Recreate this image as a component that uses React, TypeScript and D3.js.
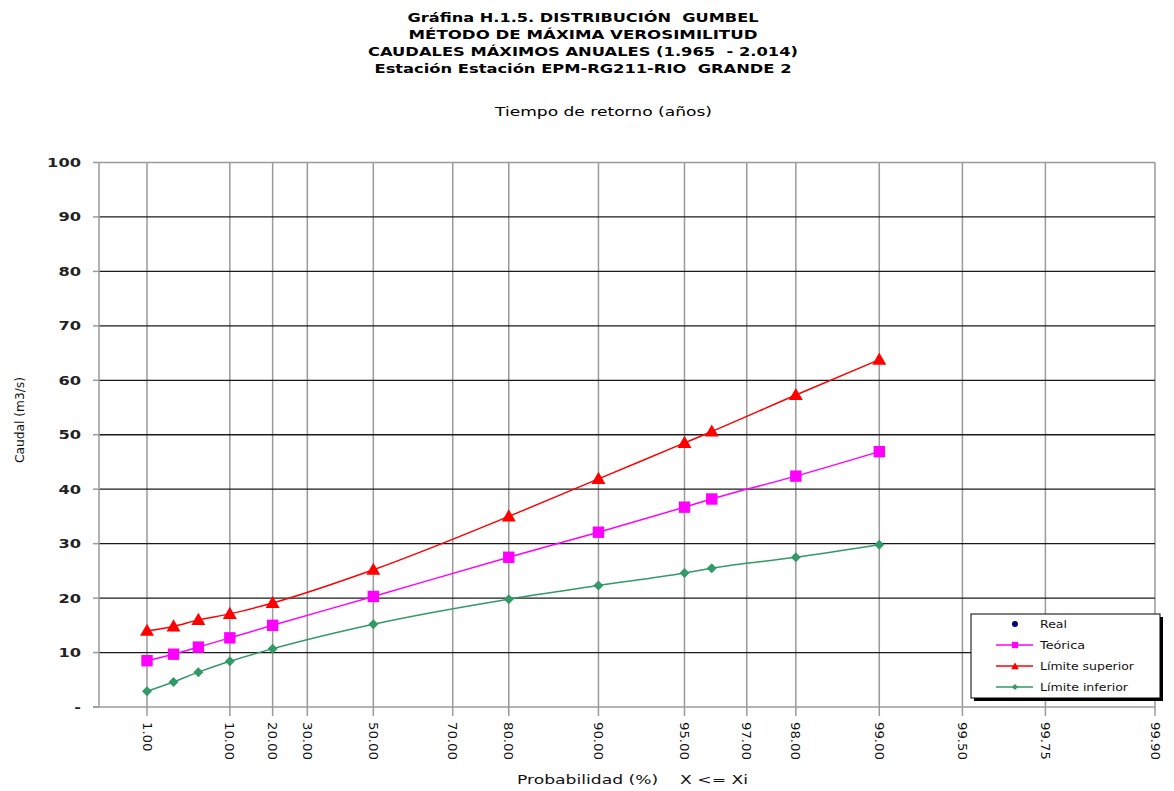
import React from "react";
import * as d3 from "d3";

// Non-exceedance probabilities (%) of the fitted points
const probabilities = [1, 2.5, 5, 10, 20, 50, 80, 90, 95, 96, 98, 99];
// Fitted Gumbel discharge (m3/s)
const teorica = [8.5, 9.7, 11.0, 12.7, 15.0, 20.3, 27.5, 32.1, 36.7, 38.2, 42.4, 46.9];
// Upper confidence limit
const limiteSuperior = [14.0, 14.8, 16.0, 17.1, 19.1, 25.2, 35.0, 41.9, 48.5, 50.6, 57.3, 63.8];
// Lower confidence limit
const limiteInferior = [2.9, 4.6, 6.4, 8.4, 10.7, 15.2, 19.8, 22.3, 24.6, 25.5, 27.5, 29.8];
// Observed values (none plotted)
const real: number[] = [];

const xTicks = [1, 10, 20, 30, 50, 70, 80, 90, 95, 97, 98, 99, 99.5, 99.75, 99.9];
const yTicks = [0, 10, 20, 30, 40, 50, 60, 70, 80, 90, 100];

const titleLines = [
  "Gráfina H.1.5. DISTRIBUCIÓN  GUMBEL",
  "MÉTODO DE MÁXIMA VEROSIMILITUD",
  "CAUDALES MÁXIMOS ANUALES (1.965  - 2.014)",
  "Estación Estación EPM-RG211-RIO  GRANDE 2",
];
const titleWidths = [351, 349, 430, 417];

const W = 1174;
const H = 791;
const FONT = "'DejaVu Sans', Verdana, sans-serif";
const STRETCH = 1.3;

// Gumbel reduced variate for a probability in percent
const gumbel = (p: number) => -Math.log(-Math.log(p / 100));

export default function App() {
  const left = 99;
  const top = 162.5;
  const bottom = 707;
  const right = 1155;

  const x = d3.scaleLinear().domain([gumbel(1), gumbel(99.9)]).range([147, 1155]);
  const y = d3.scaleLinear().domain([0, 100]).range([bottom, top]);

  const line = d3
    .line<[number, number]>()
    .x((d) => x(gumbel(d[0])))
    .y((d) => y(d[1]))
    .curve(d3.curveMonotoneX);

  const pts = (vals: number[]) => probabilities.map((p, i) => [p, vals[i]] as [number, number]);

  const squarePath = d3.symbol(d3.symbolSquare, 130)()!;
  const trianglePath = d3.symbol(d3.symbolTriangle, 85)()!;
  const diamondPath = (s: number) => `M0,${-s}L${s},0L0,${s}L${-s},0Z`;

  const legendItems = [
    { label: "Real", color: "#000080", marker: "dot", line: false, w: 27 },
    { label: "Teórica", color: "#FF00FF", marker: "square", line: true, w: 45 },
    { label: "Límite superior", color: "#FF0000", marker: "triangle", line: true, w: 94 },
    { label: "Límite inferior", color: "#339966", marker: "diamond", line: true, w: 88 },
  ];

  const renderMarker = (type: string, color: string, cx: number, cy: number, small = false) => {
    const k = small ? 0.55 : 1;
    if (type === "square")
      return <path d={squarePath} transform={`translate(${cx},${cy}) scale(${k})`} fill={color} />;
    if (type === "triangle")
      return <path d={trianglePath} transform={`translate(${cx},${cy + 1}) scale(${k})`} fill={color} />;
    if (type === "diamond")
      return <path d={diamondPath(small ? 3 : 5)} transform={`translate(${cx},${cy})`} fill={color} />;
    return <circle cx={cx} cy={cy} r={3} fill={color} />;
  };

  return (
    <svg
      width={W}
      height={H}
      style={{ position: "absolute", left: 0, top: 0, background: "#fff" }}
      fontFamily={FONT}
    >
      <rect width={W} height={H} fill="#fff" />

      {/* Title */}
      {titleLines.map((t, i) => (
        <text
          key={t}
          x={583 - titleWidths[i] / 2}
          y={21.5 + i * 17.3}
          fontSize={12.5}
          fontWeight="bold"
          fill="#000"
          textLength={titleWidths[i]}
          lengthAdjust="spacingAndGlyphs"
          xmlSpace="preserve"
        >
          {t}
        </text>
      ))}
      <text x={495} y={116} fontSize={12.5} fill="#000" textLength={217} lengthAdjust="spacingAndGlyphs">
        Tiempo de retorno (años)
      </text>

      {/* Vertical grid */}
      {xTicks.map((t) => (
        <line key={`vx${t}`} x1={x(gumbel(t))} x2={x(gumbel(t))} y1={top} y2={bottom + 9} stroke="#9a9a9a" strokeWidth={1.5} />
      ))}
      {/* Horizontal grid */}
      {yTicks.filter((t) => t > 0 && t < 100).map((t) => (
        <line key={`hy${t}`} x1={left} x2={right} y1={y(t)} y2={y(t)} stroke="#1a1a1a" strokeWidth={1.3} />
      ))}
      {/* Frame */}
      <line x1={left} x2={right} y1={top} y2={top} stroke="#9a9a9a" strokeWidth={1.5} />
      <line x1={left} x2={left} y1={top} y2={bottom} stroke="#9a9a9a" strokeWidth={1.5} />
      <line x1={left - 6} x2={right} y1={bottom} y2={bottom} stroke="#9a9a9a" strokeWidth={1.5} />
      {yTicks.map((t) => (
        <line key={`ty${t}`} x1={left - 6} x2={left} y1={y(t)} y2={y(t)} stroke="#9a9a9a" strokeWidth={1.5} />
      ))}

      {/* Y tick labels */}
      {yTicks.map((t) => (
        <text
          key={`ly${t}`}
          transform={`translate(81,${y(t) + 4.5}) scale(${STRETCH},1)`}
          textAnchor="end"
          fontSize={12.5}
          fontWeight="bold"
          fill="#222"
        >
          {t === 0 ? "-" : t}
        </text>
      ))}
      {/* X tick labels (rotated) */}
      {xTicks.map((t) => (
        <text
          key={`lx${t}`}
          transform={`translate(${x(gumbel(t)) - 4.5},${722}) rotate(90) scale(1.1,1)`}
          fontSize={12}
          fill="#111"
        >
          {t.toFixed(2)}
        </text>
      ))}

      {/* Axis titles */}
      <text
        transform={`translate(24,${463}) rotate(-90)`}
        fontSize={12}
        fill="#111"
        textLength={86}
        lengthAdjust="spacingAndGlyphs"
      >
        Caudal (m3/s)
      </text>
      <text
        x={517}
        y={784}
        fontSize={12.5}
        fill="#111"
        xmlSpace="preserve"
        textLength={231}
        lengthAdjust="spacingAndGlyphs"
      >
        Probabilidad (%)    X &lt;= Xi
      </text>

      {/* Series */}
      <path d={line(pts(limiteSuperior))!} fill="none" stroke="#FF0000" strokeWidth={1.5} />
      <path d={line(pts(teorica))!} fill="none" stroke="#FF00FF" strokeWidth={1.5} />
      <path d={line(pts(limiteInferior))!} fill="none" stroke="#339966" strokeWidth={1.5} />
      {probabilities.map((p, i) => (
        <g key={`m${p}`}>
          {renderMarker("triangle", "#FF0000", x(gumbel(p)), y(limiteSuperior[i]))}
          {renderMarker("square", "#FF00FF", x(gumbel(p)), y(teorica[i]))}
          {renderMarker("diamond", "#339966", x(gumbel(p)), y(limiteInferior[i]))}
        </g>
      ))}
      {real.map((v, i) => (
        <circle key={`r${i}`} cx={x(gumbel(probabilities[i]))} cy={y(v)} r={3} fill="#000080" />
      ))}

      {/* Legend */}
      <g>
        <rect x={974} y={617} width={189} height={84} fill="#000" />
        <rect x={971} y={614} width={189} height={84} fill="#fff" stroke="#000" strokeWidth={1} />
        {legendItems.map((it, i) => {
          const cy = 624 + i * 21;
          return (
            <g key={it.label}>
              {it.line && <line x1={996} x2={1033} y1={cy} y2={cy} stroke={it.color} strokeWidth={1.5} />}
              {renderMarker(it.marker, it.color, 1015, cy, true)}
              <text
                x={1040}
                y={cy + 3.5}
                fontSize={10}
                fill="#111"
                textLength={it.w}
                lengthAdjust="spacingAndGlyphs"
              >
                {it.label}
              </text>
            </g>
          );
        })}
      </g>
    </svg>
  );
}
